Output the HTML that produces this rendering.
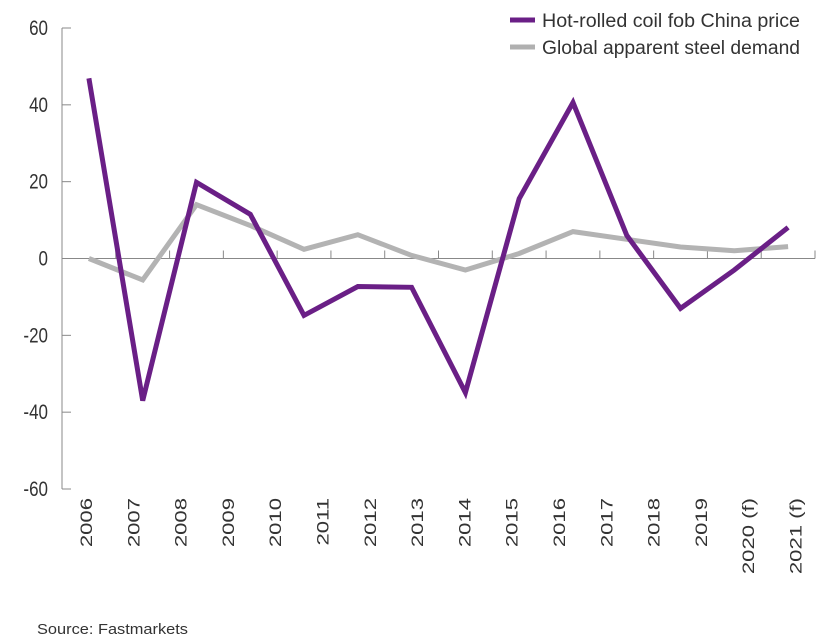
<!DOCTYPE html>
<html><head><meta charset="utf-8"><style>
html,body{margin:0;padding:0;background:#fff}
svg{display:block;font-family:"Liberation Sans",Arial,sans-serif}
</style></head><body>
<svg id="chart" width="833" height="641" viewBox="0 0 833 641" xmlns="http://www.w3.org/2000/svg">
<g id="axes"></g><g id="series"></g>
<g>
<g><line x1="510" y1="20" x2="535" y2="20" stroke="#6a1f86" stroke-width="5"/><text x="542" y="27" font-size="19" fill="#333" textLength="258" lengthAdjust="spacingAndGlyphs">Hot-rolled coil fob China price</text></g>
<g><line x1="510" y1="47" x2="535" y2="47" stroke="#b0b0b0" stroke-width="5"/><text x="542" y="54" font-size="19" fill="#333" textLength="258" lengthAdjust="spacingAndGlyphs">Global apparent steel demand</text></g>
</g>
<text x="37" y="634" font-size="15" fill="#333" textLength="151" lengthAdjust="spacingAndGlyphs">Source: Fastmarkets</text>
</svg>
<script>
const categories=["2006","2007","2008","2009","2010","2011","2012","2013","2014","2015","2016","2017","2018","2019","2020 (f)","2021 (f)"];
const yTicks=[60,40,20,0,-20,-40,-60];
const hrcValues=[46.9,-37,19.8,11.5,-14.8,-7.3,-7.5,-34.9,15.6,40.6,6,-13,-3,8.1];
const demandValues=[0,-5.6,14,8.6,2.4,6.2,0.8,-3,1.3,7,5,3,2,3.1];
const NS="http://www.w3.org/2000/svg";
const x0=62,x1=815,yTop=28,yBot=489;
function y(v){return yBot-(v+60)/120*(yBot-yTop);}
function xl(i){return 86+i*47.3;}
function xp(i,n){return x0+(x1-x0)/n*(i+0.5);}
function mk(tag,attrs,parent){const e=document.createElementNS(NS,tag);for(const k in attrs)e.setAttribute(k,attrs[k]);parent.appendChild(e);return e;}
const axes=document.getElementById('axes');
const ya=mk('line',{x1:x0,y1:yTop,x2:x0,y2:yBot,stroke:'#888','stroke-width':1},axes);


yTicks.forEach(v=>{
  const t=mk('line',{x1:x0,y1:y(v),x2:x0+9,y2:y(v),stroke:'#888','stroke-width':1},axes);
  
  
  const l=mk('text',{x:0,y:0,'text-anchor':'end','font-size':17,fill:'#333',transform:`translate(48,${y(v)+7}) scale(1,1.25)`},axes);
  l.textContent=v;
  
  
});
const xa=mk('line',{x1:x0,y1:y(0),x2:x1,y2:y(0),stroke:'#888','stroke-width':1},axes);


const n=hrcValues.length;
for(let i=1;i<=n;i++){
  const xx=x0+(x1-x0)/n*i;
  const t=mk('line',{x1:xx,y1:y(0),x2:xx,y2:y(0)-8,stroke:'#888','stroke-width':1},axes);
  
  
}
categories.forEach((c,i)=>{
  const l=mk('text',{x:0,y:0,'text-anchor':'end','font-size':17,fill:'#333',transform:`translate(${xl(i)+6},498) rotate(-90) scale(1.3,1)`},axes);
  l.textContent=c;
  
  
});
const series=document.getElementById('series');
function line(vals,color,name){
  const pts=vals.map((v,i)=>xp(i,vals.length).toFixed(1)+','+y(v).toFixed(1)).join(' ');
  const p=mk('polyline',{points:pts,fill:'none',stroke:color,'stroke-width':5,'stroke-linejoin':'miter'},series);
  
  
}
line(demandValues,'#b3b3b3','steel-demand-line');
line(hrcValues,'#6a1f86','hrc-price-line');
</script>
</body></html>
